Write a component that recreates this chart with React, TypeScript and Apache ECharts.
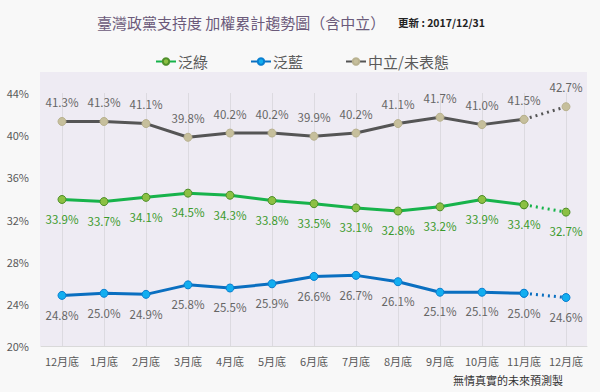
import React, { useEffect, useRef } from "react";
import * as echarts from "echarts";

const categories = ["12月底", "1月底", "2月底", "3月底", "4月底", "5月底", "6月底", "7月底", "8月底", "9月底", "10月底", "11月底", "12月底"];
const neutral = [41.3, 41.3, 41.1, 39.8, 40.2, 40.2, 39.9, 40.2, 41.1, 41.7, 41.0, 41.5, 42.7];
const green = [33.9, 33.7, 34.1, 34.5, 34.3, 33.8, 33.5, 33.1, 32.8, 33.2, 33.9, 33.4, 32.7];
const blue = [24.8, 25.0, 24.9, 25.8, 25.5, 25.9, 26.6, 26.7, 26.1, 25.1, 25.1, 25.0, 24.6];
const seriesNames = ["泛綠", "泛藍", "中立/未表態"];
const yTicks = { min: 20, max: 44, interval: 4 };
const FORECAST_FROM = 11;

const FONT = "'Noto Sans CJK TC', 'Noto Sans', sans-serif";

function solidPart(arr: number[]) {
  return arr.map((v, i) => (i <= FORECAST_FROM ? v : null));
}
function dottedPart(arr: number[]) {
  return arr.map((v, i) => (i >= FORECAST_FROM ? v : null));
}

export default function App() {
  const ref = useRef<HTMLDivElement>(null);
  useEffect(() => {
    if (!ref.current) return;
    const chart = echarts.init(ref.current, undefined, { renderer: "svg" });
    const defs = [
      { name: seriesNames[0], data: green, line: "#17b34b", fill: "#8cc043", border: "#4f8f2a", labelColor: "#3b9a2c", pos: "bottom" },
      { name: seriesNames[1], data: blue, line: "#0a6fc0", fill: "#12aef0", border: "#0a7fd0", labelColor: "#666666", pos: "bottom" },
      { name: seriesNames[2], data: neutral, line: "#555555", fill: "#c6bf9c", border: "#b9b290", labelColor: "#666666", pos: "top" },
    ];
    const series: any[] = [];
    defs.forEach((d) => {
      const label = {
        show: true,
        position: d.pos,
        distance: 9,
        color: d.labelColor,
        fontSize: 11.5,
        fontFamily: FONT,
        formatter: (p: any) => p.value.toFixed(1) + "%",
      };
      series.push({
        name: d.name,
        type: "line",
        data: solidPart(d.data),
        symbol: "circle",
        symbolSize: 8,
        lineStyle: { color: d.line, width: 3 },
        itemStyle: { color: d.fill, borderColor: d.border, borderWidth: 1 },
        label,
        z: 3,
      });
      series.push({
        name: d.name + "_f",
        type: "line",
        data: dottedPart(d.data),
        symbol: "circle",
        symbolSize: 8,
        showSymbol: true,
        lineStyle: { color: d.line, width: 3, type: [2, 4] },
        itemStyle: { color: d.fill, borderColor: d.border, borderWidth: 1 },
        label: { ...label, formatter: (p: any) => (p.dataIndex === FORECAST_FROM ? "" : p.value.toFixed(1) + "%") },
        z: 2,
      });
    });
    chart.setOption({
      animation: false,
      backgroundColor: "#f8f8f8",
      textStyle: { fontFamily: FONT },
      graphic: [
        { type: "rect", shape: { x: 40, y: 72, width: 547, height: 274 }, style: { fill: "#eeebf3" }, z: -10, silent: true },
        { type: "text", left: 97, top: 15, style: { text: "臺灣政黨支持度 加權累計趨勢圖（含中立）", fill: "#6b5a7a", font: `15px ${FONT}` } },
        { type: "text", left: 398, top: 17, style: { text: "更新 : 2017/12/31", fill: "#222222", font: `bold 10.5px ${FONT}` } },
        { type: "text", left: 453, top: 374, style: { text: "無情真實的未來預測製", fill: "#333333", font: `11px ${FONT}` } },
      ],
      legend: {
        data: seriesNames,
        top: 49,
        left: 150,
        itemGap: 42,
        itemWidth: 20,
        itemHeight: 8,
        textStyle: { color: "#5a5a5a", fontSize: 15, fontFamily: FONT, padding: [0, 0, 0, -3] },
      },
      grid: { left: 41, right: 13, top: 93, bottom: 46 },
      xAxis: {
        type: "category",
        data: categories,
        boundaryGap: true,
        axisLine: { show: true, lineStyle: { color: "#d9d9d9", width: 1 } },
        axisTick: { show: false },
        splitLine: { show: true, alignWithLabel: true, lineStyle: { color: "#dcdae0", width: 1 } },
        axisLabel: { interval: 0, color: "#595959", fontSize: 11, margin: 9, fontFamily: FONT },
      },
      yAxis: {
        type: "value",
        min: yTicks.min,
        max: yTicks.max,
        interval: yTicks.interval,
        axisLine: { show: false },
        axisTick: { show: false },
        splitLine: { show: false },
        axisLabel: { color: "#595959", fontSize: 11, margin: 12, fontFamily: FONT, formatter: (v: number) => v + "%" },
      },
      series,
    });
    return () => chart.dispose();
  }, []);
  return <div ref={ref} style={{ width: 600, height: 392, position: "absolute", left: 0, top: 0 }} />;
}
